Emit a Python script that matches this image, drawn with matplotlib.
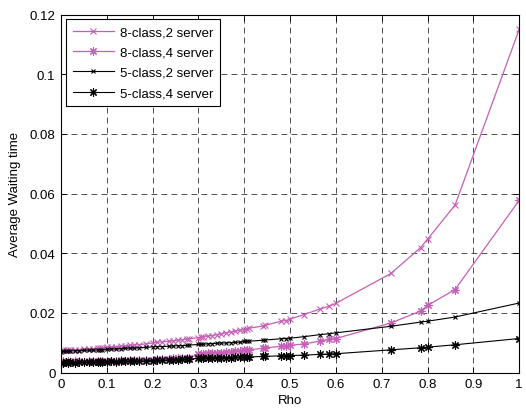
import matplotlib
matplotlib.use("Agg")
import matplotlib.pyplot as plt
from matplotlib.ticker import FuncFormatter

rho = [0, 0.005, 0.01, 0.015, 0.02, 0.03, 0.04, 0.05, 0.06, 0.07, 0.08, 0.085, 0.09,
       0.10, 0.11, 0.12, 0.13, 0.14, 0.15, 0.16, 0.17, 0.185, 0.20, 0.21, 0.22, 0.235,
       0.245, 0.255, 0.265, 0.275, 0.28, 0.30, 0.305, 0.31, 0.32, 0.33, 0.34, 0.35,
       0.36, 0.37, 0.38, 0.39, 0.40, 0.405, 0.41, 0.44, 0.445, 0.48, 0.49, 0.50, 0.53,
       0.565, 0.585, 0.60, 0.72, 0.785, 0.80, 0.86, 1.00]

w_8c2s = [0.0073, 0.0074, 0.0074, 0.0075, 0.0075, 0.0076, 0.0077, 0.0078, 0.0079, 0.0080,
          0.0081, 0.0082, 0.0083, 0.0085, 0.0086, 0.0087, 0.0088, 0.0089, 0.0091, 0.0092,
          0.0093, 0.0096, 0.0099, 0.0101, 0.0103, 0.0105, 0.0106, 0.0108, 0.0110, 0.0112,
          0.0113, 0.0117, 0.0118, 0.0120, 0.0122, 0.0124, 0.0127, 0.0130, 0.0133, 0.0136,
          0.0138, 0.0141, 0.0144, 0.0146, 0.0148, 0.0156, 0.0158, 0.0172, 0.0174, 0.0179,
          0.0194, 0.0213, 0.0222, 0.0232, 0.0332, 0.0419, 0.0447, 0.0561, 0.1150]

w_8c4s = [0.0036, 0.0037, 0.0035, 0.0038, 0.0036, 0.0037, 0.0038, 0.0036, 0.0038, 0.0037,
          0.0039, 0.0038, 0.0039, 0.0038, 0.0040, 0.0039, 0.0041, 0.0040, 0.0042, 0.0041,
          0.0042, 0.0042, 0.0043, 0.0044, 0.0045, 0.0046, 0.0047, 0.0047, 0.0048, 0.0049,
          0.0049, 0.0061, 0.0062, 0.0062, 0.0064, 0.0065, 0.0066, 0.0067, 0.0068, 0.0069,
          0.0071, 0.0072, 0.0074, 0.0075, 0.0076, 0.0081, 0.0082, 0.0088, 0.0089, 0.0091,
          0.0096, 0.0105, 0.0111, 0.0114, 0.0166, 0.0206, 0.0225, 0.0278, 0.0577]

w_5c2s = [0.0070, 0.0071, 0.0071, 0.0072, 0.0072, 0.0073, 0.0073, 0.0074, 0.0075, 0.0075,
          0.0076, 0.0077, 0.0077, 0.0078, 0.0079, 0.0079, 0.0080, 0.0081, 0.0082, 0.0082,
          0.0083, 0.0084, 0.0086, 0.0087, 0.0087, 0.0088, 0.0089, 0.0090, 0.0090, 0.0091,
          0.0092, 0.0094, 0.0094, 0.0095, 0.0096, 0.0097, 0.0098, 0.0099, 0.0099, 0.0100,
          0.0101, 0.0102, 0.0104, 0.0104, 0.0105, 0.0108, 0.0109, 0.0113, 0.0114, 0.0115,
          0.0120, 0.0127, 0.0130, 0.0133, 0.0155, 0.0169, 0.0172, 0.0186, 0.0233]

w_5c4s = [0.0033, 0.0032, 0.0034, 0.0033, 0.0035, 0.0033, 0.0034, 0.0035, 0.0034, 0.0036,
          0.0035, 0.0036, 0.0035, 0.0036, 0.0037, 0.0036, 0.0038, 0.0037, 0.0038, 0.0039,
          0.0038, 0.0039, 0.0040, 0.0041, 0.0041, 0.0042, 0.0043, 0.0043, 0.0044, 0.0044,
          0.0045, 0.0047, 0.0047, 0.0048, 0.0048, 0.0049, 0.0049, 0.0050, 0.0050, 0.0050,
          0.0051, 0.0051, 0.0052, 0.0052, 0.0052, 0.0054, 0.0054, 0.0056, 0.0056, 0.0057,
          0.0058, 0.0061, 0.0062, 0.0063, 0.0076, 0.0083, 0.0085, 0.0093, 0.0114]

labels = ["8-class,2 server", "8-class,4 server", "5-class,2 server", "5-class,4 server"]
x_ticks = [0, 0.1, 0.2, 0.3, 0.4, 0.5, 0.6, 0.7, 0.8, 0.9, 1.0]
y_ticks = [0, 0.02, 0.04, 0.06, 0.08, 0.10, 0.12]

plt.rcParams['font.family'] = ['Liberation Sans', 'DejaVu Sans']
plt.rcParams['font.size'] = 9.5

magenta = '#c55fb6'
star = (8, 2, 0)
fig = plt.figure(figsize=(5.26, 4.10), dpi=100)
ax = fig.add_axes([0.116, 0.089, 0.871, 0.873])

ax.plot(rho, w_8c2s, color=magenta, marker='x', markersize=4, lw=0.9, mew=0.8, label=labels[0])
ax.plot(rho, w_8c4s, color=magenta, marker=star, markersize=6, lw=0.9, mew=0.8, label=labels[1])
ax.plot(rho, w_5c2s, color='black', marker='x', markersize=3.5, lw=0.8, mew=0.8, label=labels[2])
ax.plot(rho, w_5c4s, color='black', marker=star, markersize=6, lw=0.8, mew=0.8, label=labels[3])

ax.set_xlim(0, 1)
ax.set_ylim(0, 0.12)
ax.set_xticks(x_ticks)
ax.set_yticks(y_ticks)
ax.xaxis.set_major_formatter(FuncFormatter(lambda v, p: '%g' % round(v, 2)))
ax.yaxis.set_major_formatter(FuncFormatter(lambda v, p: '%g' % round(v, 2)))
ax.tick_params(direction='in', length=4, width=0.6, top=True, right=True, labelsize=9.5, pad=4)
ax.grid(True, color='black', linestyle=(0, (7, 5)), linewidth=0.6, alpha=0.8)
for s in ax.spines.values():
    s.set_linewidth(0.8)

ax.set_xlabel('Rho', fontsize=9.5, labelpad=3)
ax.set_ylabel('Average Waiting time', fontsize=9.5, labelpad=6)

leg = ax.legend(loc='upper left', fontsize=9.5, frameon=True, fancybox=False,
                edgecolor='black', framealpha=1, handlelength=3.1, borderpad=0.55,
                labelspacing=0.6, handletextpad=0.45, borderaxespad=0.35)
leg.get_frame().set_linewidth(0.8)

fig.savefig('out.png', dpi=100)
